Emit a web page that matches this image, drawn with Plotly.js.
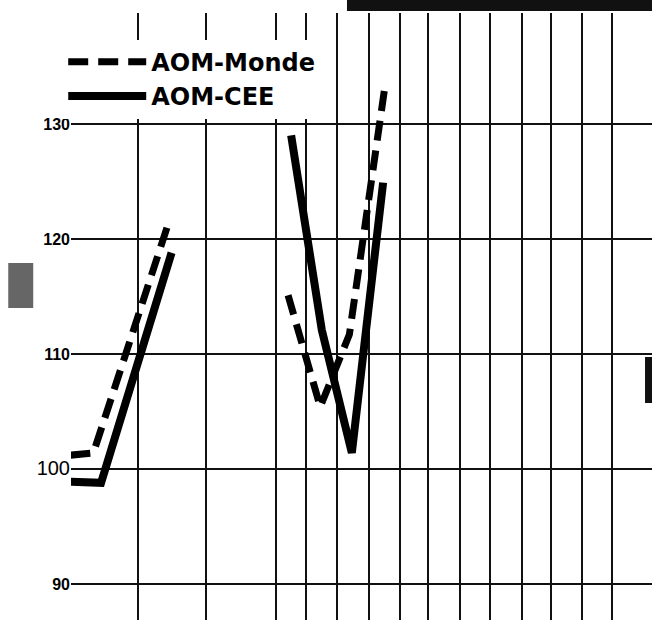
<!DOCTYPE html>
<html>
<head>
<meta charset="utf-8">
<script src="https://cdn.plot.ly/plotly-3.0.1.min.js"></script>
<style>html,body{margin:0;padding:0;background:#fff;}#chart{width:652px;height:623px;}</style>
</head>
<body>
<div id="chart"></div>
<script>
// Period positions (one unit = one grid interval on the right-hand part)
var periodsMonde = [-6.7, -5.95, -3.45, null, 0.4, 1.45, 2.4, 3.55];
var valuesMonde  = [101.2, 101.4, 121.8, null, 115.1, 105.4, 111.7, 133.1];
var periodsCEE   = [-6.7, -5.7, -3.4, null, 0.5, 1.5, 2.48, 3.5];
var valuesCEE    = [98.9, 98.8, 118.8, null, 129.0, 112.1, 101.4, 124.9];

var seriesNames = ['AOM-Monde', 'AOM-CEE'];
var yTickValues = [90, 100, 110, 120, 130];
var yTickLabels = ['<b>90</b>', '<span style="font-size:20px">100</span>', '<b>110</b>', '<b>120</b>', '<b>130</b>'];
var xGridValues = [-4.5, -2.28, 0, 1, 2, 3.05, 4.05, 4.97, 6.02, 7, 8.02, 8.98, 10, 10.97];

var traces = [
  {x: periodsMonde, y: valuesMonde, name: seriesNames[0], type: 'scatter', mode: 'lines',
   connectgaps: false, line: {color: '#000', width: 7, dash: '20px,10px'}},
  {x: periodsCEE, y: valuesCEE, name: seriesNames[1], type: 'scatter', mode: 'lines',
   connectgaps: false, line: {color: '#000', width: 8}}
];

var layout = {
  width: 652, height: 623,
  margin: {l: 71, r: 0, t: 13, b: 3, pad: 0},
  paper_bgcolor: '#fff', plot_bgcolor: '#fff',
  showlegend: true,
  legend: {
    x: -0.0134, y: 0.956, xanchor: 'left', yanchor: 'top',
    bgcolor: '#fff', borderwidth: 0, itemwidth: 78,
    font: {family: 'DejaVu Sans, sans-serif', size: 24, color: '#000', weight: 700},
    tracegroupgap: 0
  },
  xaxis: {
    range: [-6.68, 12.27], tickvals: xGridValues, showticklabels: false,
    showgrid: true, gridcolor: '#111', gridwidth: 2, zeroline: false,
    showline: false, ticks: '', fixedrange: true
  },
  yaxis: {
    range: [86.87, 139.65], tickvals: yTickValues, ticktext: yTickLabels,
    showgrid: true, gridcolor: '#111', gridwidth: 2, zeroline: false,
    showline: false, ticks: '',
    tickfont: {family: 'Liberation Sans, Arial, sans-serif', size: 16, color: '#000'}
  },
  shapes: [
    {type: 'rect', xref: 'paper', yref: 'paper', x0: 0.475, x1: 1.0, y0: 1.0035, y1: 1.03,
     fillcolor: '#111', line: {width: 0}},
    {type: 'rect', xref: 'paper', yref: 'paper', x0: 0.988, x1: 1.0, y0: 0.3575, y1: 0.4333,
     fillcolor: '#111', line: {width: 0}},
    {type: 'rect', xref: 'paper', yref: 'paper', x0: -0.108, x1: -0.065, y0: 0.514, y1: 0.588,
     fillcolor: '#666', line: {width: 0}}
  ]
};

Plotly.newPlot('chart', traces, layout, {displayModeBar: false, staticPlot: true});
</script>
</body>
</html>
